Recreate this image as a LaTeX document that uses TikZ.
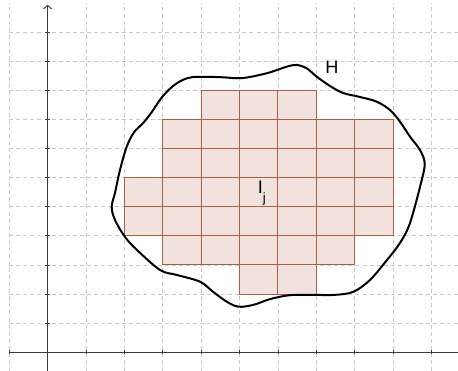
\documentclass[tikz,border=0pt]{standalone}
\usepackage{fontspec}
\setmainfont{Liberation Sans}
\usetikzlibrary{arrows.meta}
\definecolor{cellfill}{RGB}{242,226,222}
\definecolor{celledge}{RGB}{172,96,66}
\definecolor{gridgray}{RGB}{200,200,200}
\definecolor{axisgray}{RGB}{60,60,60}
\tikzset{
  gridline/.style={gridgray, line width=0.6pt, dash pattern=on 3pt off 2.3pt},
  axisline/.style={axisgray, line width=0.7pt},
  cellbox/.style={fill=cellfill, draw=celledge, line width=0.75pt},
  curveline/.style={black, line width=1.5pt, line join=round},
  lbl/.style={inner sep=0pt, anchor=base west, font=\fontsize{13.6}{16}\selectfont}
}
\begin{document}
\begin{tikzpicture}[x=28.8pt, y=21.825pt]
\useasboundingbox (-1.2396,-0.6426) rectangle (10.688,12.106);
% grid
\foreach \i in {-1,...,10} \draw[gridline] (\i,-0.6426) -- (\i,12.0);
\foreach \j in {1,...,11} \draw[gridline] (-1,\j) -- (10.688,\j);
% axes
\draw[axisline] (-1,0) -- (10.688,0);
\draw[axisline, -{Straight Barb[length=2.6pt,width=6pt]}] (0,-0.6426) -- (0,11.94);
\foreach \i in {-1,...,10} \draw[axisline] (\i,-0.07) -- (\i,0.07);
\foreach \j in {1,...,11} \draw[axisline] (-0.055,\j) -- (0.055,\j);
% cells
\foreach \x in {4,5,6} \draw[cellbox] (\x,8) rectangle ++(1,1);
\foreach \y in {6,7} \foreach \x in {3,...,8} \draw[cellbox] (\x,\y) rectangle ++(1,1);
\foreach \y in {4,5} \foreach \x in {2,...,8} \draw[cellbox] (\x,\y) rectangle ++(1,1);
\foreach \x in {3,...,7} \draw[cellbox] (\x,3) rectangle ++(1,1);
\foreach \x in {5,6} \draw[cellbox] (\x,2) rectangle ++(1,1);
% curve H
\draw[curveline] plot[smooth cycle, tension=0.55] coordinates {
(1.669,5.003) (1.755,5.474) (1.885,6.265) (2.060,7.065) (2.250,7.560) (2.470,7.850)
(2.700,8.230) (3.000,8.800) (3.350,9.230) (3.750,9.450)
(4.490,9.455) (5.050,9.420) (5.706,9.588) (6.227,9.814) (6.487,9.873) (6.747,9.759)
(7.008,9.471) (7.354,9.151) (7.693,8.911) (8.135,8.773) (8.570,8.612) (8.917,8.326)
(9.177,7.924) (9.438,7.409) (9.698,6.952) (9.820,6.500) (9.740,5.900)
(9.438,4.443) (9.177,3.756) (8.839,3.172) (8.396,2.485) (7.953,2.072) (7.432,1.969)
(6.900,1.975) (6.300,1.960) (5.800,1.830) (5.349,1.625) (4.966,1.567) (4.664,1.739)
(4.307,2.082) (3.969,2.426) (3.370,2.656) (2.927,2.828) (2.328,3.515) (2.016,3.962)
(1.755,4.546)};
% labels
\node[lbl] (H) at (7.224,9.588) {H};
\node[lbl] (Ij) at (5.471,5.457) {I\raisebox{-7pt}{\fontsize{10}{12}\selectfont j}};
\end{tikzpicture}
\end{document}
